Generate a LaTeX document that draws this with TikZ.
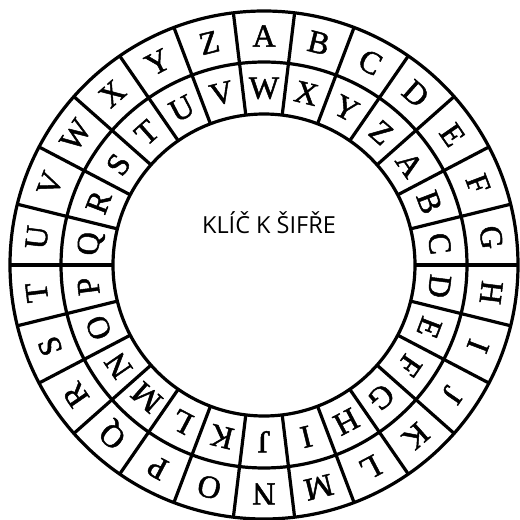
\documentclass[tikz,border=0pt]{standalone}
\usepackage{fontspec}
\setmainfont{Liberation Serif}
\newfontfamily\wheelfont[BoldFont={Liberation Serif},BoldFeatures={FakeBold=1.5}]{Liberation Serif}
\newfontfamily\labelfont{Open Sans}
\begin{document}
\begin{tikzpicture}[x=1pt,y=1pt,
  ring/.style={line width=3.2pt},
  letter/.style={inner sep=0pt,font=\wheelfont\bfseries\fontsize{32}{32}\selectfont}]
\useasboundingbox (-264,-255) rectangle (256,265);
\draw[ring] (0,0) circle (254pt);
\draw[ring] (0,0) circle (203pt);
\draw[ring] (0,0) circle (151pt);
\foreach \k in {0,...,25}
  \draw[ring] ({90-180/26-\k*360/26}:151) -- ({90-180/26-\k*360/26}:254);
\foreach \i/\o/\n in {0/A/W,1/B/X,2/C/Y,3/D/Z,4/E/A,5/F/B,6/G/C,7/H/D,8/I/E,9/J/F,10/K/G,11/L/H,12/M/I,13/N/J,14/O/K,15/P/L,16/Q/M,17/R/N,18/S/O,19/T/P,20/U/Q,21/V/R,22/W/S,23/X/T,24/Y/U,25/Z/V}{
  \node[letter,rotate={-\i*360/26}] (o\i) at ({90-\i*360/26}:229) {\smash{\o}\vphantom{A}};
  \node[letter,rotate={-\i*360/26}] (n\i) at ({90-\i*360/26}:177) {\smash{\n}\vphantom{A}};
}
\node[font=\labelfont\fontsize{23.5}{23.5}\selectfont, anchor=base, inner sep=0pt] (title) at (5,32) {KLÍČ K ŠIFŘE};
\end{tikzpicture}
\end{document}
